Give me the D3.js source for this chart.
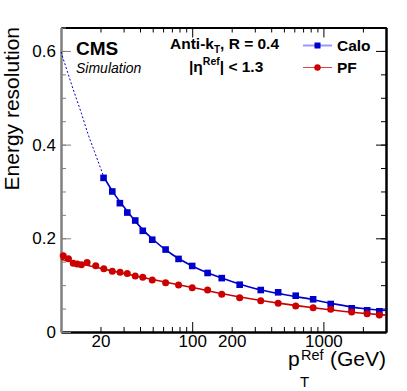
<!DOCTYPE html>
<html>
<head>
<meta charset="utf-8">
<script src="https://cdnjs.cloudflare.com/ajax/libs/d3/7.8.5/d3.min.js"></script>
<style>
  body { margin: 0; background: #fff; }
  text { font-family: "Liberation Sans", Arial, Helvetica, sans-serif; }
</style>
</head>
<body>
<svg id="chart" width="407" height="391"></svg>
<script>
// measured points, pT in GeV
var caloPt  = [21.1, 24.6, 28.1, 32.0, 36.8, 42.0, 49.6, 62.7, 78.7, 100, 131, 168, 230, 333, 452, 615, 835, 1137, 1642, 2153, 2670];
var caloRes = [0.329, 0.300, 0.275, 0.255, 0.238, 0.216, 0.197, 0.176, 0.156, 0.141, 0.126, 0.115, 0.101, 0.0896, 0.0847, 0.0775, 0.0698, 0.0598, 0.0506, 0.0463, 0.0442];

var pfPt  = [10.4, 11.4, 12.4, 13.3, 14.3, 15.8, 18.4, 21.2, 24.6, 28.2, 32.0, 36.8, 42.0, 49.6, 62.7, 78.7, 100, 131, 168, 230, 333, 452, 615, 835, 1137, 1642, 2153, 2670];
var pfRes = [0.1626, 0.1564, 0.1468, 0.1451, 0.1436, 0.1483, 0.1413, 0.1351, 0.1297, 0.1276, 0.1251, 0.1195, 0.1169, 0.111, 0.1052, 0.1003, 0.0945, 0.0896, 0.0805, 0.0732, 0.0668, 0.0612, 0.0555, 0.0519, 0.0484, 0.0427, 0.0391, 0.0363];

// fit curves
var caloFitLowPt  = [10, 11.3, 12.7, 14.3, 16.0, 18.0, 21.2];
var caloFitLowRes = [0.598, 0.552, 0.509, 0.467, 0.424, 0.385, 0.331];
var caloFitPt  = [21.2, 25, 30, 40, 50, 70, 100, 150, 200, 300, 500, 800, 1200, 2000, 3000];
var caloFitRes = [0.331, 0.298, 0.268, 0.225, 0.198, 0.166, 0.141, 0.120, 0.108, 0.093, 0.080, 0.070, 0.060, 0.050, 0.046];
var pfFitPt  = [10, 15, 20, 30, 50, 100, 200, 500, 1000, 2000, 3000];
var pfFitRes = [0.155, 0.144, 0.136, 0.125, 0.112, 0.095, 0.078, 0.060, 0.049, 0.040, 0.036];

var xMajorTicks = [100, 1000];
var xMinorTicks = [20, 30, 40, 50, 60, 70, 80, 90, 200, 300, 400, 500, 600, 700, 800, 900, 2000, 3000];
var xTickLabels = [20, 100, 200, 1000];
var yMajorTicks = [0, 0.2, 0.4, 0.6];

var blue = '#0000cc', red = '#cc0000';
var frameL = 61, frameR = 386, frameT = 27.5, frameB = 332;

var svg = d3.select('#chart');
var x = d3.scaleLog().domain([10, 3000]).range([frameL, frameR]);
var y = d3.scaleLinear().domain([0, 0.65]).range([frameB, frameT]);

var xLabel = function(d) { return xTickLabels.indexOf(d) >= 0 ? d : ''; };

function styleAxis(g, col) {
  g.selectAll('path').attr('stroke', col).attr('stroke-width', 2);
  g.selectAll('line').attr('stroke', col).attr('stroke-width', 1);
  g.selectAll('text').attr('fill', '#000').style('font-size', '17px')
    .style('font-family', '"Liberation Sans", Arial, sans-serif');
}

// bottom
svg.append('g').attr('transform', 'translate(0,' + frameB + ')')
  .call(d3.axisBottom(x).tickValues(xMinorTicks).tickSize(-5).tickSizeOuter(0).tickPadding(3).tickFormat(xLabel))
  .call(styleAxis, '#000');
svg.append('g').attr('transform', 'translate(0,' + frameB + ')')
  .call(d3.axisBottom(x).tickValues(xMajorTicks).tickSize(-10).tickSizeOuter(0).tickPadding(3).tickFormat(xLabel))
  .call(styleAxis, '#000');
// top
svg.append('g').attr('transform', 'translate(0,' + frameT + ')')
  .call(d3.axisTop(x).tickValues(xMinorTicks).tickSize(-5).tickSizeOuter(0).tickFormat(''))
  .call(styleAxis, '#000');
svg.append('g').attr('transform', 'translate(0,' + frameT + ')')
  .call(d3.axisTop(x).tickValues(xMajorTicks).tickSize(-10).tickSizeOuter(0).tickFormat(''))
  .call(styleAxis, '#000');
// left
svg.append('g').attr('transform', 'translate(' + frameL + ',0)')
  .call(d3.axisLeft(y).ticks(13).tickSize(-5).tickSizeOuter(0).tickFormat(''))
  .call(styleAxis, '#808080');
svg.append('g').attr('transform', 'translate(' + frameL + ',0)')
  .call(d3.axisLeft(y).tickValues(yMajorTicks).tickSize(-10).tickSizeOuter(0).tickPadding(5)
    .tickFormat(function(d) { return d === 0 ? '0' : d.toFixed(1); }))
  .call(styleAxis, '#808080');
// right
svg.append('g').attr('transform', 'translate(' + frameR + ',0)')
  .call(d3.axisRight(y).ticks(13).tickSize(-5).tickSizeOuter(0).tickFormat(''))
  .call(styleAxis, '#000');
svg.append('g').attr('transform', 'translate(' + frameR + ',0)')
  .call(d3.axisRight(y).tickValues(yMajorTicks).tickSize(-10).tickSizeOuter(0).tickFormat(''))
  .call(styleAxis, '#000');

// curves
var line = d3.line().x(function(d) { return x(d[0]); }).y(function(d) { return y(d[1]); })
  .curve(d3.curveMonotoneX);
var zip = function(a, b) { return a.map(function(v, i) { return [v, b[i]]; }); };

svg.append('path').datum(zip(caloFitLowPt, caloFitLowRes)).attr('d', line)
  .attr('fill', 'none').attr('stroke', blue).attr('stroke-width', 1).attr('stroke-dasharray', '2,2');
svg.append('path').datum(zip(caloFitPt, caloFitRes)).attr('d', line)
  .attr('fill', 'none').attr('stroke', blue).attr('stroke-width', 1.6);
svg.append('path').datum(zip(pfFitPt, pfFitRes)).attr('d', line)
  .attr('fill', 'none').attr('stroke', red).attr('stroke-width', 1.6);

svg.append('g').selectAll('rect').data(zip(caloPt, caloRes)).enter().append('rect')
  .attr('x', function(d) { return x(d[0]) - 3.3; })
  .attr('y', function(d) { return y(d[1]) - 3.3; })
  .attr('width', 6.6).attr('height', 6.6).attr('fill', blue);
svg.append('g').selectAll('circle').data(zip(pfPt, pfRes)).enter().append('circle')
  .attr('cx', function(d) { return x(d[0]); })
  .attr('cy', function(d) { return y(d[1]); })
  .attr('r', 3.5).attr('fill', red);

// axis titles
svg.append('text').attr('transform', 'translate(19,27) rotate(-90)')
  .attr('text-anchor', 'end').style('font-size', '21px').text('Energy resolution');
svg.append('text').attr('x', 288).attr('y', 366).style('font-size', '21px').text('p');
svg.append('text').attr('x', 300).attr('y', 387).style('font-size', '15px').text('T');
svg.append('text').attr('x', 301).attr('y', 360).style('font-size', '14.5px').text('Ref');
svg.append('text').attr('x', 386).attr('y', 366).attr('text-anchor', 'end').style('font-size', '21px').text('(GeV)');

// labels
svg.append('text').attr('x', 76).attr('y', 55).style('font-size', '19px').style('font-weight', 'bold').text('CMS');
svg.append('text').attr('x', 76).attr('y', 72.5).style('font-size', '14px').style('font-style', 'italic').text('Simulation');

var t1 = svg.append('text').attr('x', 170).attr('y', 49).style('font-size', '15.5px').style('font-weight', 'bold');
t1.append('tspan').text('Anti-k');
t1.append('tspan').attr('dy', 4).style('font-size', '10px').text('T');
t1.append('tspan').attr('dy', -4).text(', R = 0.4');

var t2 = svg.append('text').attr('x', 189).attr('y', 72).style('font-size', '15.5px').style('font-weight', 'bold');
t2.append('tspan').text('|\u03b7');
t2.append('tspan').attr('dy', -7).style('font-size', '10.5px').text('Ref');
t2.append('tspan').attr('dy', 7).text('| < 1.3');

// legend
var legend = [
  { name: 'Calo', color: blue, lineColor: '#9999ff', shape: 'square', y: 45.5, w: 2 },
  { name: 'PF', color: red, lineColor: '#dd4444', shape: 'circle', y: 67.5, w: 1 }
];
var lg = svg.append('g').selectAll('g').data(legend).enter().append('g');
lg.append('line').attr('x1', 303).attr('x2', 332)
  .attr('y1', function(d) { return d.y; }).attr('y2', function(d) { return d.y; })
  .attr('stroke', function(d) { return d.lineColor; }).attr('stroke-width', function(d) { return d.w; });
lg.filter(function(d) { return d.shape === 'square'; }).append('rect')
  .attr('x', 314.5).attr('y', function(d) { return d.y - 3; }).attr('width', 6).attr('height', 6)
  .attr('fill', function(d) { return d.color; });
lg.filter(function(d) { return d.shape === 'circle'; }).append('circle')
  .attr('cx', 317.5).attr('cy', function(d) { return d.y; }).attr('r', 3.2)
  .attr('fill', function(d) { return d.color; });
lg.append('text').attr('x', 337).attr('y', function(d) { return d.y + 5.5; })
  .style('font-size', '15.5px').style('font-weight', 'bold').text(function(d) { return d.name; });
</script>
</body>
</html>
